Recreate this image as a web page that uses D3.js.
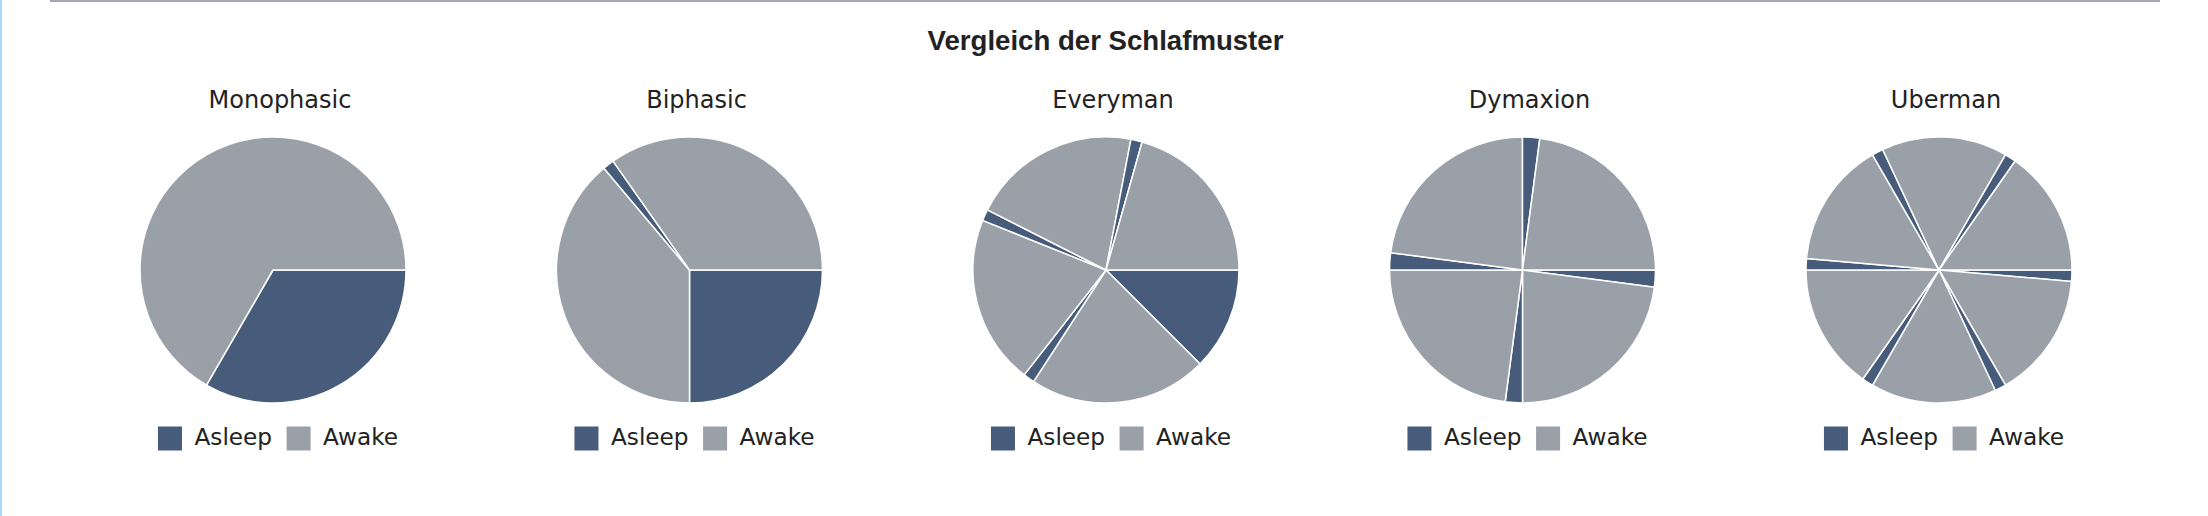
<!DOCTYPE html>
<html>
<head>
<meta charset="utf-8">
<script src="https://cdn.jsdelivr.net/npm/d3@7"></script>
<style>
  html, body { margin: 0; padding: 0; background: #fff; }
  svg { display: block; }
</style>
</head>
<body>
<div id="chart"></div>
<script>
// ---- data ----
const title = "Vergleich der Schlafmuster";
const patterns = ["Monophasic", "Biphasic", "Everyman", "Dymaxion", "Uberman"];
const states = ["Asleep", "Awake"];
// hours per segment, in order, alternating Asleep / Awake starting with Asleep
const monophasicHours = [8, 16];
const biphasicHours = [6, 9.33, 0.33, 8.34];
const everymanHours = [3, 5.2, 0.33, 4.93, 0.33, 4.93, 0.33, 4.95];
const dymaxionHours = [0.5, 5.5, 0.5, 5.5, 0.5, 5.5, 0.5, 5.5];
const ubermanHours = [0.33, 3.67, 0.33, 3.67, 0.33, 3.67, 0.33, 3.67, 0.33, 3.67, 0.33, 3.67];
const patternHours = [monophasicHours, biphasicHours, everymanHours, dymaxionHours, ubermanHours];
const stateColors = ["#475c7a", "#9aa0a8"];

// ---- layout ----
const W = 2208, H = 516;
const svg = d3.select("#chart").append("svg").attr("width", W).attr("height", H);

svg.append("rect").attr("x", 0).attr("y", 0).attr("width", 2).attr("height", H).attr("fill", "#a9d9f7");
svg.append("rect").attr("x", 50).attr("y", 0).attr("width", 2110).attr("height", 2).attr("fill", "#a2a7b2");

svg.append("text")
  .attr("x", 1105.5).attr("y", 50)
  .attr("text-anchor", "middle")
  .attr("font-family", "'Liberation Sans', Arial, sans-serif")
  .attr("font-weight", "bold")
  .attr("font-size", 27.6)
  .attr("fill", "#222")
  .text(title);

const xCenter = d3.scalePoint().domain(patterns).range([273, 1939]);
const color = d3.scaleOrdinal().domain(states).range(stateColors);
const radius = 133;
const cy = 270;

const pie = d3.pie().sort(null).value(d => d.hours)
  .startAngle(Math.PI / 2).endAngle(Math.PI / 2 + 2 * Math.PI);
const arc = d3.arc().innerRadius(0).outerRadius(radius);

patterns.forEach((p, i) => {
  const cx = xCenter(p);
  const segs = patternHours[i].map((h, j) => ({ hours: h, state: states[j % 2] }));
  const g = svg.append("g").attr("transform", `translate(${cx},${cy})`);
  g.selectAll("path").data(pie(segs)).join("path")
    .attr("d", arc)
    .attr("fill", d => color(d.data.state))
    .attr("stroke", "#fff")
    .attr("stroke-width", 1.5)
    .attr("stroke-linejoin", "round");

  svg.append("text")
    .attr("x", cx + 7).attr("y", 108)
    .attr("text-anchor", "middle")
    .attr("font-family", "'DejaVu Sans', sans-serif")
    .attr("font-size", 24)
    .attr("fill", "#222")
    .text(p);

  // legend
  const lg = svg.append("g");
  let x = 0;
  states.forEach((s, k) => {
    lg.append("rect").attr("x", x).attr("y", 426.5).attr("width", 24).attr("height", 24)
      .attr("fill", color(s));
    const t = lg.append("text").attr("x", x + 36.5).attr("y", 445)
      .attr("font-family", "'DejaVu Sans', sans-serif")
      .attr("font-size", 23.2)
      .attr("fill", "#222")
      .text(s);
    x = x + 36.5 + t.node().getComputedTextLength() + 14.5;
  });
  const total = x - 14.5;
  lg.attr("transform", `translate(${cx + 5 - total / 2},0)`);
});
</script>
</body>
</html>
